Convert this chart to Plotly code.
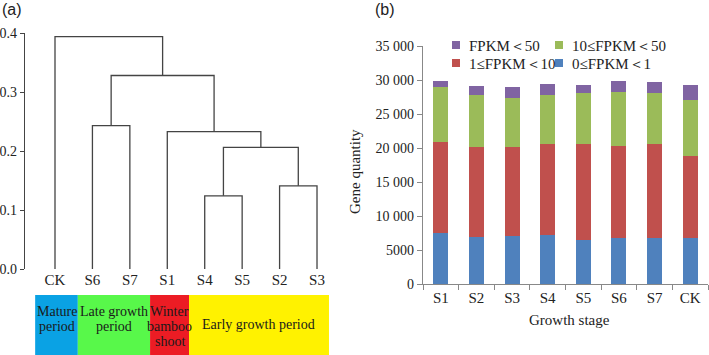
import plotly.graph_objects as go

# ---------------- data ----------------
LEAVES = ["CK", "S6", "S7", "S1", "S4", "S5", "S2", "S3"]
# linkage: (left cluster id, right cluster id, height); leaves are 0..7, new clusters 8..
LINKAGE = [
    (4, 5, 0.124),   # 8  S4-S5
    (6, 7, 0.141),   # 9  S2-S3
    (8, 9, 0.206),   # 10
    (3, 10, 0.233),  # 11 S1 + 10
    (1, 2, 0.243),   # 12 S6-S7
    (12, 11, 0.328), # 13
    (0, 13, 0.394),  # 14 root
]
GROUP_NAMES = [["Mature", "period"], ["Late growth", "period"],
               ["Winter", "bamboo", "shoot"], ["Early growth period"]]

STAGES = ["S1", "S2", "S3", "S4", "S5", "S6", "S7", "CK"]
FPKM_0_1 = [7500, 6850, 7050, 7250, 6500, 6750, 6750, 6750]
FPKM_1_10 = [13330, 13250, 13050, 13330, 14080, 13490, 13830, 12040]
FPKM_10_50 = [8190, 7660, 7310, 7270, 7520, 8000, 7520, 8280]
FPKM_50 = [830, 1360, 1610, 1610, 1170, 1660, 1660, 2200]
SERIES_NAMES = ["0≤FPKM＜1", "1≤FPKM＜10", "10≤FPKM＜50", "FPKM＜50"]
Y2_TICKS = [0, 5000, 10000, 15000, 20000, 25000, 30000, 35000]
Y2_TICKTEXT = ["0", "5000", "10 000", "15 000", "20 000", "25 000", "30 000", "35 000"]
Y1_TICKS = [0.0, 0.1, 0.2, 0.3, 0.4]

# ---------------- style ----------------
W, H = 709, 355
SERIF = "Liberation Serif"
SANS = "Liberation Sans"
BOX_COLORS = ["#0AA2E4", "#58F84A", "#EC1C24", "#FFF200"]
BOX_EDGES = [-0.53, 0.61, 2.54, 3.58, 7.32]  # x-axis units of the dendrogram panel
SERIES_COLORS = ["#4F81BD", "#C0504D", "#9BBB59", "#8064A2"]
# legend slot (marker centre x, row centre y) in pixels for each series
LEGEND_SLOTS = [(559, 63), (456, 63), (559, 45), (456, 45)]


def py(px):
    return 1 - px / H


def px_x(px):
    return px / W


fig = go.Figure()

# ---------------- dendrogram ----------------
pos = {i: float(i) for i in range(len(LEAVES))}
hgt = {i: 0.0 for i in range(len(LEAVES))}
xs, ys = [], []
for k, (a, b, h) in enumerate(LINKAGE):
    cid = len(LEAVES) + k
    xs += [pos[a], pos[a], pos[b], pos[b], None]
    ys += [hgt[a], h, h, hgt[b], None]
    pos[cid] = (pos[a] + pos[b]) / 2
    hgt[cid] = h

fig.add_trace(go.Scatter(x=xs, y=ys, mode="lines", line=dict(color="#444444", width=1.3),
                         showlegend=False, hoverinfo="skip", xaxis="x", yaxis="y"))

# ---------------- stacked bars ----------------
for name, vals, col in zip(SERIES_NAMES, [FPKM_0_1, FPKM_1_10, FPKM_10_50, FPKM_50], SERIES_COLORS):
    fig.add_trace(go.Bar(x=STAGES, y=vals, name=name, marker=dict(color=col, line=dict(width=0)),
                         showlegend=False, xaxis="x2", yaxis="y2"))

shapes = []
annotations = []

# manual legend (compact rows)
for name, col, (mx, my) in zip(SERIES_NAMES, SERIES_COLORS, LEGEND_SLOTS):
    shapes.append(dict(type="rect", xref="paper", yref="paper", x0=px_x(mx - 4), x1=px_x(mx + 4),
                       y0=py(my + 4), y1=py(my - 4), fillcolor=col, line=dict(width=0)))
    annotations.append(dict(text=name, xref="paper", yref="paper", x=px_x(mx + 11), y=py(my + 1),
                            xanchor="left", yanchor="middle", showarrow=False,
                            font=dict(family=SERIF, size=15, color="#222")))

# ---------------- group boxes ----------------
for i, lines in enumerate(GROUP_NAMES):
    x0, x1 = BOX_EDGES[i], BOX_EDGES[i + 1]
    shapes.append(dict(type="rect", xref="x", yref="paper", x0=x0, x1=x1, y0=0, y1=py(295),
                       fillcolor=BOX_COLORS[i], line=dict(width=0), layer="below"))
    first = 311 if len(lines) > 1 else 324
    for j, t in enumerate(lines):
        annotations.append(dict(text=t, xref="x", yref="paper", x=(x0 + x1) / 2, y=py(first + 15 * j),
                                xanchor="center", yanchor="middle", showarrow=False,
                                font=dict(family=SERIF, size=14, color="#1a1a1a")))

annotations += [
    dict(text="(a)", xref="paper", yref="paper", x=0, y=py(10), xanchor="left", yanchor="middle",
         showarrow=False, font=dict(family=SANS, size=16, color="#222")),
    dict(text="(b)", xref="paper", yref="paper", x=px_x(373), y=py(10), xanchor="left", yanchor="middle",
         showarrow=False, font=dict(family=SANS, size=16, color="#222")),
    dict(text="Gene quantity", xref="paper", yref="paper", x=px_x(355), y=py(172), textangle=-90,
         xanchor="center", yanchor="middle", showarrow=False, font=dict(family=SERIF, size=15, color="#222")),
    dict(text="Growth stage", xref="paper", yref="paper", x=px_x(569), y=py(320),
         xanchor="center", yanchor="middle", showarrow=False, font=dict(family=SERIF, size=15, color="#222")),
]

leaf_px0, leaf_step = 55, 37.43
fig.update_layout(
    width=W, height=H, margin=dict(l=0, r=0, t=0, b=0, autoexpand=False),
    paper_bgcolor="white", plot_bgcolor="white",
    barmode="stack", bargap=0.58, showlegend=False,
    font=dict(family=SERIF, size=14, color="#222"),
    shapes=shapes, annotations=annotations,
    xaxis=dict(domain=[px_x(25), px_x(340)], automargin=False,
               range=[(25 - leaf_px0) / leaf_step, (340 - leaf_px0) / leaf_step],
               tickmode="array", tickvals=list(range(len(LEAVES))), ticktext=LEAVES,
               showline=False, showgrid=False, zeroline=False, ticks="",
               tickfont=dict(family=SERIF, size=15, color="#222"), fixedrange=True),
    yaxis=dict(domain=[py(269), py(33)], range=[0, 0.4], automargin=False, tickmode="array",
               tickvals=Y1_TICKS, tickformat=".1f", showline=True, linecolor="#444", linewidth=1.2,
               ticks="outside", ticklen=4, tickcolor="#444", showgrid=False, zeroline=False,
               tickfont=dict(family=SERIF, size=14, color="#222")),
    xaxis2=dict(domain=[px_x(423), px_x(708)], type="category", range=[-0.5, 7.5], anchor="y2",
                automargin=False, showline=True, linecolor="#888", linewidth=1.2, ticks="outside",
                tickson="boundaries", ticklen=5, tickcolor="#888", showgrid=False,
                tickfont=dict(family=SERIF, size=15, color="#222")),
    yaxis2=dict(domain=[py(284), py(46)], range=[0, 35000], anchor="x2", automargin=False,
                tickmode="array", tickvals=Y2_TICKS, ticktext=Y2_TICKTEXT, showline=True,
                linecolor="#888", linewidth=1.2, ticks="outside", ticklen=5, tickcolor="#888",
                showgrid=False, zeroline=False, tickfont=dict(family=SERIF, size=14, color="#222")),
)

fig.write_html("out.html", config={"displayModeBar": False},
               post_script="document.body.style.margin='0';document.body.style.overflow='hidden';")
